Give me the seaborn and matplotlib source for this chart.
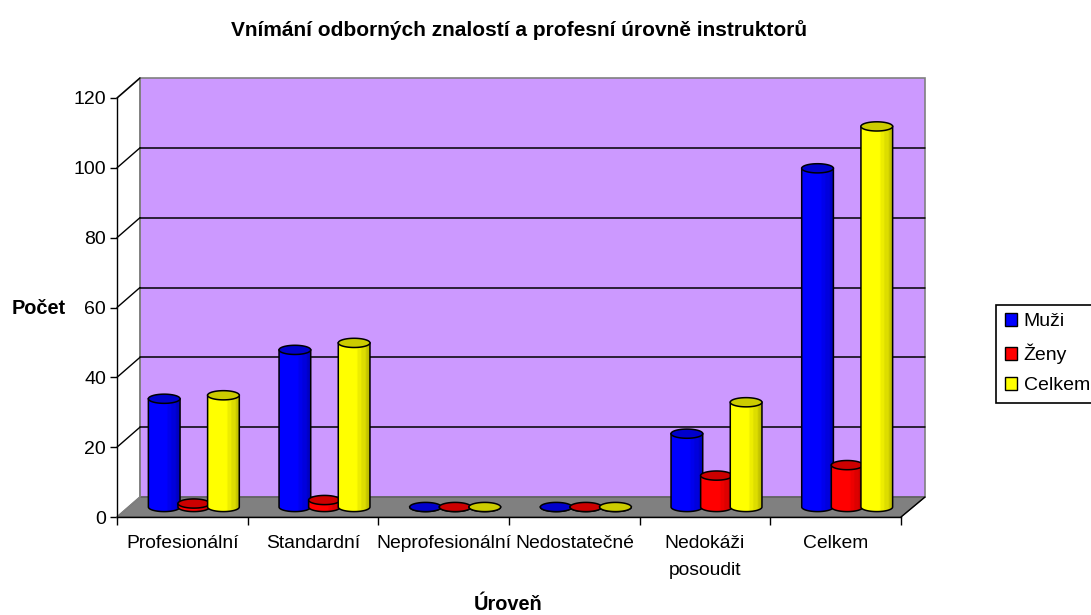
#!/usr/bin/env python
"""
  Excel style cylinder chart, instructors' expertise by level
"""

import matplotlib

matplotlib.use("Agg")
import matplotlib.pyplot as plt
import numpy as np
import pandas as pd
import seaborn as sns
from matplotlib.lines import Line2D
from matplotlib.patches import Polygon
from matplotlib.transforms import IdentityTransform

TITLE = "Vnímání odborných znalostí a profesní úrovně instruktorů"
XLABEL = "Úroveň"
YLABEL = "Počet"
CATEGORIES = ["Profesionální", "Standardní", "Neprofesionální", "Nedostatečné",
              "Nedokáži\nposoudit", "Celkem"]
SERIES = ["Muži", "Ženy", "Celkem"]
MUZI = [31, 45, 0, 0, 21, 97]
ZENY = [1, 2, 0, 0, 9, 12]
CELKEM = [32, 47, 0, 0, 30, 109]
YTICKS = [0, 20, 40, 60, 80, 100, 120]
COLORS = ["#0000FF", "#FF0000", "#FFFF00"]

W, H = 1091, 615
LEFT, RIGHT, BOTTOM, TOP = 117, 901, 517, 98
DEPTH_X, DEPTH_Y = 23, 20
PX_PER_UNIT = (BOTTOM - TOP) / 120
CAP = 4.6  # half height of the cylinder ends, px


def px(x, y):
    """Image pixel (y down) to display coordinates"""
    return (x, H - y)


def draw_frame(ax):
    """Back wall, floor, gridlines and the side wall lines"""
    tr = IdentityTransform()
    bx0, bx1 = LEFT + DEPTH_X, RIGHT + DEPTH_X + 1
    by0, by1 = BOTTOM - DEPTH_Y, TOP - DEPTH_Y
    ax.add_patch(Polygon([px(bx0, by0), px(bx1, by0), px(bx1, by1), px(bx0, by1)],
                         closed=True, fc="#CC99FF", ec="#808080", lw=1.2,
                         transform=tr, clip_on=False, zorder=0))
    ax.add_patch(Polygon([px(LEFT, BOTTOM), px(RIGHT, BOTTOM), px(bx1, by0), px(bx0, by0)],
                         closed=True, fc="#808080", ec="#505050", lw=0.8,
                         transform=tr, clip_on=False, zorder=1))
    ax.add_line(Line2D(*zip(px(LEFT, TOP), px(bx0, by1), px(bx0, by0), px(LEFT, BOTTOM)),
                       color="#808080", lw=1.2, transform=tr, clip_on=False, zorder=1))
    for v in YTICKS[1:]:
        front = BOTTOM - v * PX_PER_UNIT
        back = front - DEPTH_Y
        if v < 120:
            ax.add_line(Line2D(*zip(px(bx0, back), px(bx1, back)), color="black",
                               lw=1.1, transform=tr, clip_on=False, zorder=1.5))
        ax.add_line(Line2D(*zip(px(LEFT, front), px(bx0, back)), color="black",
                           lw=1.0, transform=tr, clip_on=False, zorder=1.5))
    ax.add_line(Line2D(*zip(px(RIGHT, BOTTOM), px(bx1, by0)), color="black",
                       lw=1.0, transform=tr, clip_on=False, zorder=1.5))


def draw_cylinder(ax, bar, color, z, unit):
    """Shade one seaborn bar as a cylinder"""
    grow = 1.07
    xc = bar.get_x() + bar.get_width() / 2
    half = bar.get_width() * grow / 2
    top = bar.get_height()
    cap = CAP * unit
    t = np.linspace(0, np.pi, 40)

    # body: flat top edge with a rounded lower end
    bx = xc - half * np.cos(t)
    by = -cap * np.sin(t)
    verts = np.vstack([[xc - half, top], np.column_stack([bx, by]), [xc + half, top]])
    rgb = np.array(matplotlib.colors.to_rgb(color))
    pos = np.linspace(0, 1, 64)
    shade = np.interp(pos, [0, 0.6, 0.62, 0.72, 0.74, 0.86, 0.88, 1],
                      [1, 1, 0.93, 0.93, 0.87, 0.87, 0.8, 0.72])
    img = (rgb[None, None, :] * shade[None, :, None])
    body = Polygon(verts, closed=True, fc="none", ec="black", lw=1.1, zorder=z + 0.2,
                   clip_on=False)
    ax.add_patch(body)
    grad = ax.imshow(img, extent=(xc - half, xc + half, -cap, top + cap), aspect="auto",
                     zorder=z + 0.1, interpolation="bilinear")
    # images are cut at the axes box otherwise, and the rounded end hangs below it
    grad.set_clip_box(ax.figure.bbox)
    grad.set_clip_path(body)

    # top cap
    u = np.linspace(0, 2 * np.pi, 80)
    ax.add_patch(Polygon(np.column_stack([xc + half * np.cos(u), top + cap * np.sin(u)]),
                         closed=True, fc=rgb * 0.8, ec="black", lw=1.1, zorder=z + 0.3,
                         clip_on=False))


def main():
    sns.set_theme(style="white")
    plt.rcParams["font.family"] = ["Liberation Sans", "DejaVu Sans"]

    fig = plt.figure(figsize=(W / 100, H / 100), dpi=100, facecolor="white")
    rect = [LEFT / W, (H - BOTTOM) / H, (RIGHT - LEFT) / W, (BOTTOM - TOP) / H]
    ax = fig.add_axes(rect)
    ax.set_facecolor("none")
    ax.set_xlim(-0.5, len(CATEGORIES) - 0.5)
    ax.set_ylim(0, 120)
    draw_frame(ax)

    ax.set_xticks(range(len(CATEGORIES)))
    ax.set_xticklabels(CATEGORIES, fontsize=13.9, color="black", linespacing=1.8)
    ax.set_xticks(np.arange(len(CATEGORIES) + 1) - 0.5, minor=True)
    ax.set_yticks(YTICKS)
    ax.set_yticklabels([str(v) for v in YTICKS], fontsize=14, color="black")
    ax.tick_params(axis="x", which="major", length=0, pad=13)
    ax.tick_params(axis="x", which="minor", length=6, width=1, color="black", bottom=True)
    ax.tick_params(axis="y", length=5, width=1, color="black", pad=3, left=True)
    for side in ("top", "right"):
        ax.spines[side].set_visible(False)
    for side in ("left", "bottom"):
        ax.spines[side].set_color("black")
        ax.spines[side].set_linewidth(1)
        ax.spines[side].set_zorder(3)

    # bars stand mid-depth on the floor, so they get their own shifted axes
    shift_x, shift_y = DEPTH_X / 2, DEPTH_Y / 2
    bar_rect = [(LEFT + shift_x) / W, (H - BOTTOM + shift_y) / H, rect[2], rect[3]]
    ax_bars = fig.add_axes(bar_rect)
    ax_bars.patch.set_visible(False)

    frame = pd.DataFrame({
        "level": CATEGORIES * len(SERIES),
        "series": [s for s in SERIES for _ in CATEGORIES],
        "count": MUZI + ZENY + CELKEM,
    })
    sns.barplot(data=frame, x="level", y="count", hue="series", hue_order=SERIES,
                palette=COLORS, width=0.68, gap=0, saturation=1, legend=False,
                ax=ax_bars, linewidth=0)
    ax_bars.set_xlim(-0.5, len(CATEGORIES) - 0.5)
    ax_bars.set_ylim(0, 120)

    unit = 1 / PX_PER_UNIT
    z = 5
    for container, color in zip(ax_bars.containers, COLORS):
        for bar in container:
            bar.set_zorder(z)
            draw_cylinder(ax_bars, bar, color, z, unit)
        z += 1
    ax_bars.set_xlim(-0.5, len(CATEGORIES) - 0.5)
    ax_bars.set_ylim(0, 120)
    ax_bars.axis("off")

    fig.text(519.5 / W, 1 - 30 / H, TITLE, ha="center", va="center", fontsize=15,
             fontweight="bold", color="black")
    fig.text(39 / W, 1 - 308 / H, YLABEL, ha="center", va="center", fontsize=14.4,
             fontweight="bold", color="black")
    fig.text(508 / W, 1 - 604 / H, XLABEL, ha="center", va="center", fontsize=14.4,
             fontweight="bold", color="black")

    handles = [plt.Rectangle((0, 0), 1, 1, fc=c, ec="black", lw=1) for c in COLORS]
    leg = fig.legend(handles, SERIES, loc="upper left",
                     bbox_to_anchor=(996 / W, 1 - 304.5 / H), fontsize=14,
                     frameon=True, fancybox=False, edgecolor="black", framealpha=1,
                     handlelength=0.62, handleheight=0.62, handletextpad=0.35,
                     labelspacing=0.68, borderpad=0.45, borderaxespad=0)
    leg.get_frame().set_linewidth(1.2)
    for t in leg.get_texts():
        t.set_color("black")

    fig.savefig("out.png", dpi=100)


if __name__ == "__main__":
    main()
